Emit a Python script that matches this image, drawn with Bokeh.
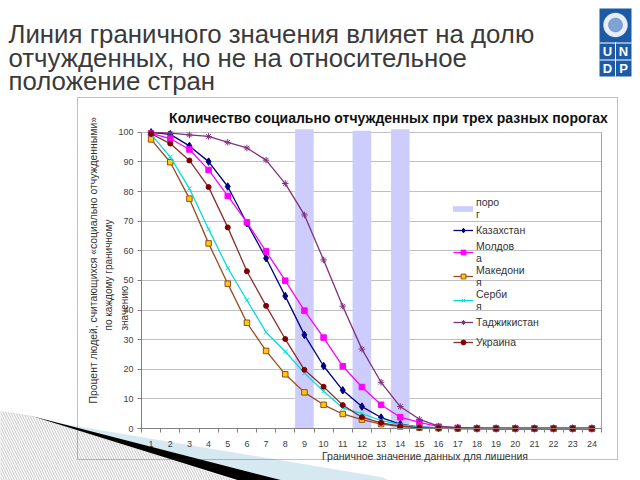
import numpy as np
from bokeh.plotting import figure
from bokeh.models import (FixedTicker, Label, BoxAnnotation, PolyAnnotation, LinearAxis,
                          Legend, LegendItem)
from bokeh.embed import file_html
from bokeh.resources import INLINE

# ---------------- data ----------------
categories = list(range(1, 25))
x_labels = [str(c) for c in categories]
y_ticks = list(range(0, 101, 10))

threshold_x = [9, 12, 14]
threshold_h = [101, 100.5, 101]

kazakhstan = [100, 99.3, 95.4, 90.1, 81.7, 69.3, 57.5, 44.7, 31.6, 21.1, 12.9, 7.4,
              3.7, 1.5, 0.5, 0.2, 0.1, 0, 0, 0, 0, 0, 0, 0]
moldova = [99.6, 97.9, 94.2, 87.3, 78.5, 69.6, 59.8, 49.9, 39.8, 30.7, 21.0, 14.0,
           8.0, 3.8, 2.1, 0.6, 0.2, 0.1, 0, 0, 0, 0, 0, 0]
macedonia = [97.6, 89.9, 77.6, 62.5, 48.9, 35.7, 26.2, 18.3, 12.2, 8.0, 4.9, 3.0,
             1.5, 0.7, 0.3, 0.1, 0, 0, 0, 0, 0, 0, 0, 0]
serbia = [99.3, 91.7, 81.0, 67.3, 54.2, 43.3, 32.5, 26.0, 18.7, 12.6, 6.9, 5.0,
          2.7, 1.3, 0.5, 0.2, 0, 0, 0, 0, 0, 0, 0, 0]
tajikistan = [100, 99.7, 99.1, 98.6, 96.6, 94.7, 90.6, 82.7, 72.1, 56.9, 41.3, 26.8,
              15.6, 7.4, 3.1, 0.8, 0.3, 0.1, 0, 0, 0, 0, 0, 0]
ukraine = [99.5, 96.2, 90.5, 81.5, 67.9, 53.1, 41.4, 30.2, 19.8, 14.1, 7.9, 3.8,
           1.9, 0.8, 0.3, 0.1, 0, 0, 0, 0, 0, 0, 0, 0]

series = [
    ("Казахстан", kazakhstan, "#000080", "diamond", 7.5, "#000080", "#000080"),
    ("Молдов\nа", moldova, "#FF00FF", "square", 5.5, "#FF00FF", "#FF00FF"),
    ("Македони\nя", macedonia, "#9A4A22", "square", 5.5, "#FFCC00", "#9A4A22"),
    ("Серби\nя", serbia, "#00DDDD", "x", 6, "#00DDDD", "#00DDDD"),
    ("Таджикистан", tajikistan, "#803080", "asterisk", 6.5, "#803080", "#803080"),
    ("Украина", ukraine, "#8B2E2E", "circle", 5, "#800000", "#800000"),
]

FONT = "Liberation Sans"
W, H = 640, 480
# where the plot area sits on the page (pixels)
FL, FR, FB, FT100 = 141, 601, 428, 131.8
X0, X1 = 0.5, 24.5
sx = (FR - FL) / (X1 - X0)
sy = (FB - FT100) / 100.0

# the frame covers the whole canvas so that page texts are not clipped;
# the axes are pinned to the plot area with fixed_location / bounds
p = figure(width=W, height=H,
           x_range=(X0 - FL / sx, X1 + (W - FR) / sx),
           y_range=(-(H - FB) / sy, FB / sy),
           output_backend="svg", toolbar_location=None,
           min_border_left=0, min_border_right=0, min_border_top=0, min_border_bottom=0)
p.outline_line_color = None
p.background_fill_color = "white"
p.border_fill_color = "white"

# ---------------- slide corner decoration (underlay, below axes) ----------------
def poly(pts, **kw):
    p.add_layout(PolyAnnotation(xs=[a for a, _ in pts], ys=[b for _, b in pts],
                                xs_units="canvas", ys_units="canvas", level="underlay",
                                **kw))

poly([(0, 411), (33, 416), (240, 482), (0, 482)],
     fill_color="white", fill_alpha=1, line_color="#b8b8b8", line_width=1,
     hatch_pattern="\\", hatch_color="#c4c4c4", hatch_scale=5, hatch_weight=1)
poly([(60, 423), (383, 477), (392, 482), (290, 482), (33, 416)],
     fill_color="#d6e9f1", fill_alpha=1, line_alpha=0)
poly([(33, 416), (290, 482), (245, 482)], fill_color="black", fill_alpha=1, line_alpha=0)

# axes
p.xaxis.fixed_location = 0
p.xaxis.bounds = (X0, X1)
p.xaxis.ticker = FixedTicker(ticks=categories,
                             minor_ticks=[c - 0.5 for c in categories] + [X1])
p.xaxis.major_label_overrides = {c: l for c, l in zip(categories, x_labels)}
p.xaxis.major_tick_line_color = None
p.xaxis.major_tick_out = 0
p.xaxis.major_tick_in = 0
p.xaxis.minor_tick_out = 4
p.xaxis.minor_tick_in = 0
p.xaxis.minor_tick_line_color = "#808080"
p.xaxis.major_label_standoff = 8
p.yaxis.fixed_location = X0
p.yaxis.bounds = (0, 100)
p.yaxis.ticker = FixedTicker(ticks=y_ticks)
p.yaxis.major_tick_out = 4
p.yaxis.major_tick_in = 0
p.yaxis.minor_tick_line_color = None
p.yaxis.major_tick_line_color = "#808080"
p.yaxis.major_label_standoff = 4
for ax in (p.xaxis, p.yaxis):
    ax.axis_line_color = "#808080"
    ax.major_label_text_font = FONT
    ax.major_label_text_font_size = "9px"
    ax.major_label_text_color = "#404040"
p.xgrid.visible = False
p.ygrid.ticker = FixedTicker(ticks=y_ticks)
p.ygrid.bounds = (0, 100)
p.ygrid.grid_line_color = "#c0c0c0"
try:
    p.ygrid.cross_bounds = (X0, X1)
except Exception:
    p.ygrid.visible = False
    p.segment(x0=X0, x1=X1, y0=y_ticks, y1=y_ticks, line_color="#c0c0c0", level="underlay")

# right border of the plot area
rb = LinearAxis(fixed_location=X1, bounds=(0, 100), ticker=FixedTicker(ticks=[]),
                major_tick_line_color=None, minor_tick_line_color=None,
                major_label_text_alpha=0, axis_line_color="#a0a0a0")
p.add_layout(rb, "right")

# threshold bars
bars = p.vbar(x=threshold_x, top=threshold_h, width=0.97, fill_color="#CCCCFF",
              line_color=None)

legend_items = []
for name, vals, lc, mk, ms, fc, mlc in series:
    lr = p.line(categories, vals, line_color=lc, line_width=1.3)
    sr = p.scatter(categories, vals, marker=mk, size=ms, fill_color=fc,
                   line_color=mlc, line_width=1)
    legend_items.append(LegendItem(label=name, renderers=[lr, sr]))

common = dict(padding=0, margin=0, label_height=20,
              label_text_font=FONT, label_text_font_size="10.5px",
              label_text_color="#333333", label_text_line_height=1.0,
              background_fill_alpha=0, border_line_alpha=0)
legend_bar = Legend(items=[LegendItem(label="поро\nг", renderers=[bars])],
                    location=(450, 260), glyph_width=25, glyph_height=7,
                    label_standoff=1, spacing=0, **common)
legend_lines = Legend(items=legend_items, location=(453, 128), glyph_width=20,
                      glyph_height=12, label_standoff=3, spacing=0, **common)
p.add_layout(legend_bar)
p.add_layout(legend_lines)

CV = dict(x_units="canvas", y_units="canvas")
BCV = dict(left_units="canvas", right_units="canvas", top_units="canvas",
           bottom_units="canvas")

# ---------------- chart box ----------------
p.add_layout(BoxAnnotation(left=77, right=617, top=97, bottom=459, fill_alpha=0,
                           line_color="#303030", line_width=1, **BCV))

# ---------------- texts ----------------
for line, base in (("Линия граничного значения влияет на долю", 33),
                   ("отчужденных, но не на относительное", 57),
                   ("положение стран", 80)):
    p.add_layout(Label(x=8, y=base, text=line, text_align="left",
                       text_baseline="alphabetic", text_color="#3a3a3a",
                       text_font=FONT, text_font_size="25.8px", **CV))

p.add_layout(Label(x=388, y=117,
                   text="Количество социально отчужденных при трех разных порогах",
                   text_align="center", text_baseline="alphabetic", text_color="#111111",
                   text_font=FONT, text_font_style="bold", text_font_size="14px", **CV))

p.add_layout(Label(x=424.5, y=455, text="Граничное значение данных для лишения",
                   text_align="center", text_baseline="alphabetic", text_color="#333333",
                   text_font=FONT, text_font_size="10.5px", **CV))

for line, lx, ly, fs in (("Процент людей, считающихся «социально отчужденными»", 93, 403, "10.4px"),
                         ("по каждому граничному", 108, 330, "10px"),
                         ("значению", 124, 330, "10px")):
    p.add_layout(Label(x=lx, y=ly, text=line, angle=np.pi / 2, text_align="left",
                       text_baseline="middle", text_color="#333333",
                       text_font=FONT, text_font_size=fs, **CV))

# ---------------- UNDP logo ----------------
p.add_layout(BoxAnnotation(left=599, right=631, top=8, bottom=76, fill_color="#1d5aa6",
                           fill_alpha=1, line_alpha=0, **BCV))
t = np.linspace(0, 2 * np.pi, 40)
p.add_layout(PolyAnnotation(xs=list(615 + 12 * np.cos(t)), ys=list(24.5 + 12 * np.sin(t)),
                            xs_units="canvas", ys_units="canvas",
                            fill_color="#e8eef8", fill_alpha=1, line_color="white"))
p.add_layout(PolyAnnotation(xs=list(615 + 7 * np.cos(t)), ys=list(24.5 + 7 * np.sin(t)),
                            xs_units="canvas", ys_units="canvas",
                            fill_color="#7fa3d6", fill_alpha=1, line_color="#1d5aa6"))
for yy in (42, 59):
    p.add_layout(BoxAnnotation(left=599, right=631, top=yy, bottom=yy + 1,
                               fill_color="white", fill_alpha=1, line_alpha=0, **BCV))
p.add_layout(BoxAnnotation(left=614.5, right=615.5, top=42, bottom=76,
                           fill_color="white", fill_alpha=1, line_alpha=0, **BCV))
for txt, lx, ly in (("U", 607, 51), ("N", 623, 51), ("D", 607, 68), ("P", 623, 68)):
    p.add_layout(Label(x=lx, y=ly, text=txt, text_align="center", text_baseline="middle",
                       text_color="white", text_font=FONT, text_font_style="bold",
                       text_font_size="13px", **CV))

open("out.html", "w").write(file_html(p, INLINE))
